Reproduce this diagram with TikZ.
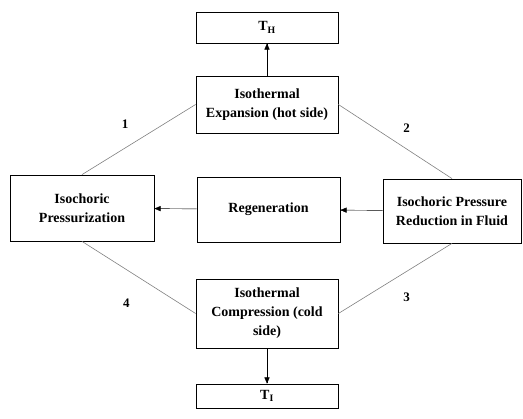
\documentclass[tikz,border=0pt]{standalone}
\usepackage{fontspec}
\setmainfont{Liberation Serif}
\usetikzlibrary{arrows,positioning}

\begin{document}
\begin{tikzpicture}[x=1pt,y=-1pt,
    stage/.style={draw,thick,align=center,font=\bfseries\fontsize{14}{19}\selectfont,inner sep=2pt},
    link/.style={draw=gray,line width=0.6pt},
    step no/.style={font=\bfseries\fontsize{13}{15}\selectfont,inner sep=0pt},
    flow/.style={->,>=triangle 45,thin}]
      \useasboundingbox (0,0) rectangle (523,419);

      \coordinate (th) at (267,27.5);
      \coordinate (exp) at (267,104.5);
      \coordinate (pres) at (82,208);
      \coordinate (regen) at (268.5,209.5);
      \coordinate (red) at (452,211);
      \coordinate (comp) at (267,313.5);
      \coordinate (tl) at (267,396);

      \node[stage,minimum width=142pt,minimum height=31pt] (thn) at (th) {T\textsubscript{H}};
      \node[stage,minimum width=142pt,minimum height=57pt] (expn) at (exp) {Isothermal\\Expansion (hot side)};
      \node[stage,minimum width=144pt,minimum height=66pt] (presn) at (pres) {Isochoric\\Pressurization};
      \node[stage,minimum width=143pt,minimum height=65pt] (regenn) at (regen) {Regeneration};
      \node[stage,minimum width=138pt,minimum height=64pt] (redn) at (red) {Isochoric Pressure\\Reduction in Fluid};
      \node[stage,minimum width=142pt,minimum height=69pt] (compn) at (comp) {Isothermal\\Compression (cold\\side)};
      \node[stage,minimum width=142pt,minimum height=24pt] (tln) at (tl) {T\textsubscript{I}};

      % cycle legs
      \draw[link] (presn.north) --node[step no,pos=0.38,above=19pt] {1} (expn.west);
      \draw[link] (expn.east) --node[step no,pos=0.6,above=16pt] {2} (redn.north);
      \draw[link] (redn.south) --node[step no,pos=0.4,below=21pt] {3} (compn.east);
      \draw[link] (compn.west) --node[step no,pos=0.61,below=29pt] {4} (presn.south);

      \draw[flow] (expn) -- (thn);
      \draw[flow] (compn) -- (tln);
      \draw[flow] (regenn) -- (presn);
      \draw[flow] (redn) -- (regenn);
    \end{tikzpicture}
\end{document}
